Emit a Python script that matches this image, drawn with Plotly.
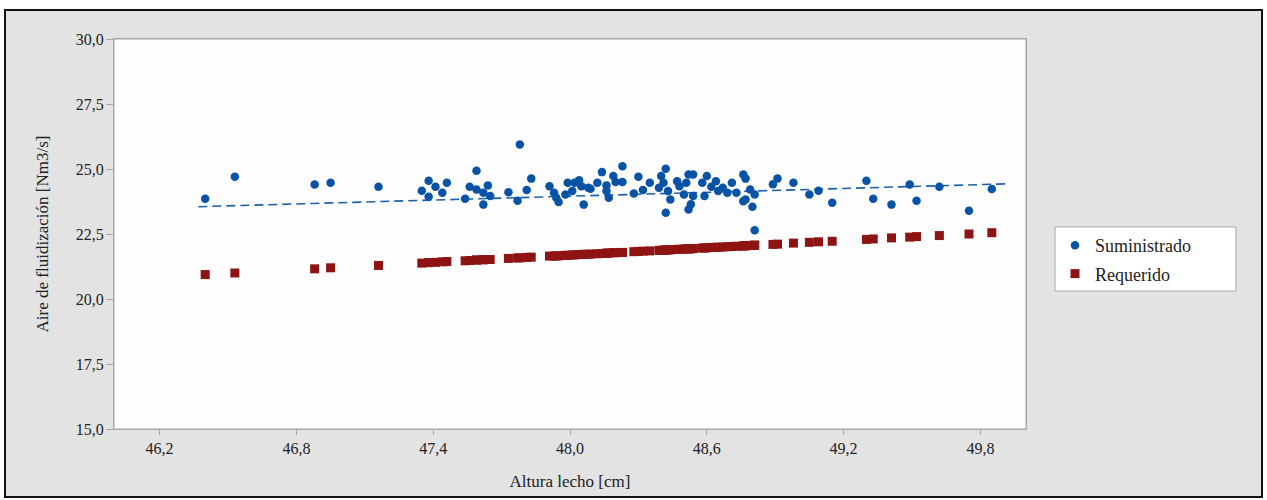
import plotly.graph_objects as go

# ---- data ----
altura = [46.40, 46.53, 46.88, 46.95, 47.16, 47.35, 47.38, 47.41, 47.38, 47.44,
          47.46, 47.54, 47.56, 47.59, 47.59, 47.62, 47.64, 47.62, 47.65, 47.73,
          47.77, 47.78, 47.81, 47.83, 47.91, 47.93, 47.94, 47.95, 47.99, 47.98,
          48.02, 48.04, 48.05, 48.06, 48.08, 48.09, 48.01, 48.12, 48.14, 48.16,
          48.16, 48.17, 48.19, 48.20, 48.23, 48.23, 48.28, 48.30, 48.32, 48.35,
          48.39, 48.40, 48.41, 48.42, 48.42, 48.43, 48.44, 48.47, 48.48, 48.50,
          48.51, 48.52, 48.53, 48.52, 48.54, 48.54, 48.58, 48.60, 48.59, 48.62,
          48.64, 48.65, 48.67, 48.69, 48.71, 48.73, 48.76, 48.77, 48.77, 48.79,
          48.80, 48.81, 48.81, 48.76, 48.89, 48.91, 48.98, 49.05, 49.09, 49.15,
          49.30, 49.33, 49.41, 49.49, 49.52, 49.62, 49.75, 49.85]

suministrado = [23.86, 24.70, 24.40, 24.47, 24.32, 24.16, 24.55, 24.32, 23.93, 24.09,
                24.47, 23.86, 24.32, 24.93, 24.21, 24.09, 24.37, 23.63, 23.96, 24.11,
                23.78, 25.94, 24.19, 24.63, 24.34, 24.09, 23.89, 23.73, 24.47, 24.02,
                24.47, 24.57, 24.34, 23.63, 24.28, 24.24, 24.15, 24.47, 24.88, 24.37,
                24.15, 23.89, 24.73, 24.50, 24.50, 25.11, 24.06, 24.70, 24.19, 24.47,
                24.28, 24.73, 24.47, 25.01, 23.32, 24.15, 23.83, 24.53, 24.34, 24.02,
                24.47, 23.44, 23.64, 24.79, 24.79, 23.96, 24.47, 24.73, 23.96, 24.32,
                24.53, 24.15, 24.28, 24.09, 24.47, 24.09, 24.79, 24.63, 23.83, 24.21,
                23.55, 24.02, 22.64, 23.76, 24.41, 24.63, 24.47, 24.02, 24.16, 23.70,
                24.55, 23.86, 23.63, 24.40, 23.78, 24.32, 23.39, 24.23]

requerido = [20.94, 21.00, 21.16, 21.20, 21.29, 21.38, 21.40, 21.41, 21.40, 21.43,
             21.44, 21.47, 21.48, 21.50, 21.50, 21.51, 21.52, 21.51, 21.52, 21.56,
             21.58, 21.58, 21.60, 21.61, 21.65, 21.65, 21.66, 21.66, 21.68, 21.68,
             21.70, 21.71, 21.71, 21.72, 21.72, 21.73, 21.69, 21.74, 21.75, 21.76,
             21.76, 21.77, 21.78, 21.78, 21.79, 21.79, 21.82, 21.83, 21.84, 21.85,
             21.87, 21.87, 21.88, 21.88, 21.88, 21.89, 21.89, 21.91, 21.91, 21.92,
             21.93, 21.93, 21.93, 21.93, 21.94, 21.94, 21.96, 21.97, 21.96, 21.98,
             21.99, 21.99, 22.00, 22.01, 22.02, 22.03, 22.04, 22.05, 22.05, 22.06,
             22.06, 22.07, 22.07, 22.04, 22.10, 22.11, 22.15, 22.18, 22.20, 22.22,
             22.29, 22.31, 22.35, 22.38, 22.40, 22.44, 22.50, 22.55]

tendencia_x = [46.37, 49.92]
tendencia_y = [23.55, 24.43]

y_ticks = [15.0, 17.5, 20.0, 22.5, 25.0, 27.5, 30.0]
y_ticktext = ["15,0", "17,5", "20,0", "22,5", "25,0", "27,5", "30,0"]
x_ticks = [46.2, 46.8, 47.4, 48.0, 48.6, 49.2, 49.8]
x_ticktext = ["46,2", "46,8", "47,4", "48,0", "48,6", "49,2", "49,8"]

BLUE = "#0953a6"
RED = "#8e1414"
FONT = "Liberation Serif"

fig = go.Figure()

fig.add_trace(go.Scatter(
    x=tendencia_x, y=tendencia_y, mode="lines",
    line=dict(color="#1c5fb0", width=1.6, dash="9px,5px"),
    showlegend=False, hoverinfo="skip"))

fig.add_trace(go.Scatter(
    x=altura, y=suministrado, mode="markers", name="Suministrado",
    legendgroup="a",
    marker=dict(symbol="circle", size=8.5, color=BLUE)))

fig.add_trace(go.Scatter(
    x=altura, y=requerido, mode="markers", name="Requerido",
    legendgroup="b",
    marker=dict(symbol="square", size=9, color=RED)))

W, H = 1267, 500
L, R, T, B = 114, 241, 39, 71
pw, ph = W - L - R, H - T - B

def px2paper_x(px):
    return (px - L) / pw

def px2paper_y(py):
    return (H - B - py) / ph

shapes = [
    # grey panel with black frame
    dict(type="rect", xref="paper", yref="paper", layer="below",
         x0=px2paper_x(5), x1=px2paper_x(1262),
         y0=px2paper_y(497), y1=px2paper_y(10),
         fillcolor="#e3e3e3", line=dict(color="#111111", width=2)),
    # plot area
    dict(type="rect", xref="paper", yref="paper", layer="below",
         x0=0, x1=1, y0=0, y1=1,
         fillcolor="#fdfdfd", line=dict(color="#a8a8a8", width=1)),
    # legend box
    dict(type="rect", xref="paper", yref="paper", layer="below",
         x0=px2paper_x(1055), x1=px2paper_x(1236),
         y0=px2paper_y(291), y1=px2paper_y(227),
         fillcolor="white", line=dict(color="#a8a8a8", width=1)),
]

fig.update_layout(
    width=W, height=H,
    margin=dict(l=L, r=R, t=T, b=B),
    paper_bgcolor="white",
    plot_bgcolor="rgba(0,0,0,0)",
    separators=",.",
    font=dict(family=FONT, size=16, color="#222222"),
    shapes=shapes,
    showlegend=True,
    legend=dict(
        x=px2paper_x(1055), y=px2paper_y(227), xanchor="left", yanchor="top",
        bgcolor="rgba(0,0,0,0)", borderwidth=0,
        font=dict(family=FONT, size=18, color="#222222"),
        tracegroupgap=2, traceorder="grouped", itemwidth=30,
    ),
    xaxis=dict(
        range=[46.0, 50.0], tickvals=x_ticks, ticktext=x_ticktext,
        showgrid=False, zeroline=False,
        showline=True, linecolor="#a8a8a8", linewidth=1, mirror=True,
        ticks="outside", ticklen=5, tickcolor="#a8a8a8",
        tickfont=dict(family=FONT, size=16, color="#222222"),
        title=dict(text="Altura lecho [cm]", standoff=18,
                   font=dict(family=FONT, size=17, color="#222222")),
        automargin=False,
    ),
    yaxis=dict(
        range=[15.0, 30.0], tickvals=y_ticks, ticktext=y_ticktext,
        showgrid=False, zeroline=False,
        showline=True, linecolor="#a8a8a8", linewidth=1, mirror=True,
        ticks="outside", ticklen=7, tickcolor="#a8a8a8",
        ticklabelstandoff=-1,
        tickfont=dict(family=FONT, size=16, color="#222222"),
        title=dict(text="Aire de fluidización [Nm3/s]", standoff=22,
                   font=dict(family=FONT, size=17, color="#222222")),
        automargin=False,
    ),
)

fig.write_html("out.html",
               config={"displayModeBar": False},
               post_script="document.body.style.margin='0';document.body.style.padding='0';")
